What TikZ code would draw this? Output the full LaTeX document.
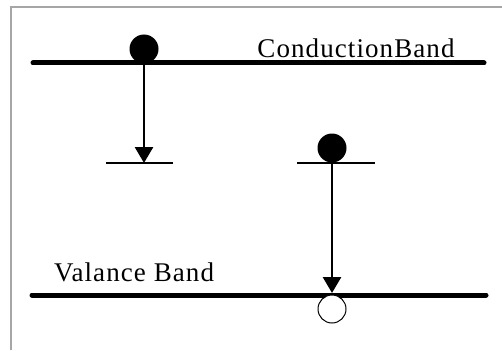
\documentclass[tikz,border=0pt]{standalone}
\usepackage{fontspec}
\setmainfont{Liberation Serif}
\usetikzlibrary{arrows.meta}
\begin{document}
\begin{tikzpicture}[x=1pt,y=-1pt,
  band/.style={line width=5pt,line cap=round},
  level/.style={line width=1.5pt},
  elec/.style={circle,fill=black,minimum size=29pt,inner sep=0pt},
  hole/.style={circle,draw=black,fill=white,line width=1pt,minimum size=28pt,inner sep=0pt},
  trans/.style={line width=2.8pt,-{Triangle[length=16pt,width=18pt]}},
  lbl/.style={font=\fontsize{27}{30}\selectfont\addfontfeature{LetterSpace=4},inner sep=0pt,anchor=base}]
\useasboundingbox (0,0) rectangle (502,350);
% frame
\draw[gray!70,line width=1.5pt] (11,350) -- (11,7) -- (502,7);
% bands
\coordinate (cbL) at (33,63); \coordinate (cbR) at (484,63);
\coordinate (vbL) at (32,295); \coordinate (vbR) at (486,295);
\draw[band] (cbL) -- (cbR);
\draw[band] (vbL) -- (vbR);
% levels
\coordinate (l1L) at (106,163); \coordinate (l1R) at (173,163);
\coordinate (l2L) at (297,163); \coordinate (l2R) at (375,163);
\draw[level] (l1L) -- (l1R);
\draw[level] (l2L) -- (l2R);
% electrons & hole
\node[elec] (e1) at (144,49) {};
\node[elec] (e2) at (332,148) {};
\node[hole] (h) at (332,309) {};
% transitions
\coordinate (a1s) at (144,63); \coordinate (a1e) at (144,163);
\coordinate (a2s) at (332,160); \coordinate (a2e) at (332,293);
\draw[trans] (a1s) -- (a1e);
\draw[trans] (a2s) -- (a2e);
% labels
\node[lbl] (cb) at (356,58) {ConductionBand};
\node[lbl] (vb) at (134,281) {Valance Band};
\end{tikzpicture}
\end{document}
